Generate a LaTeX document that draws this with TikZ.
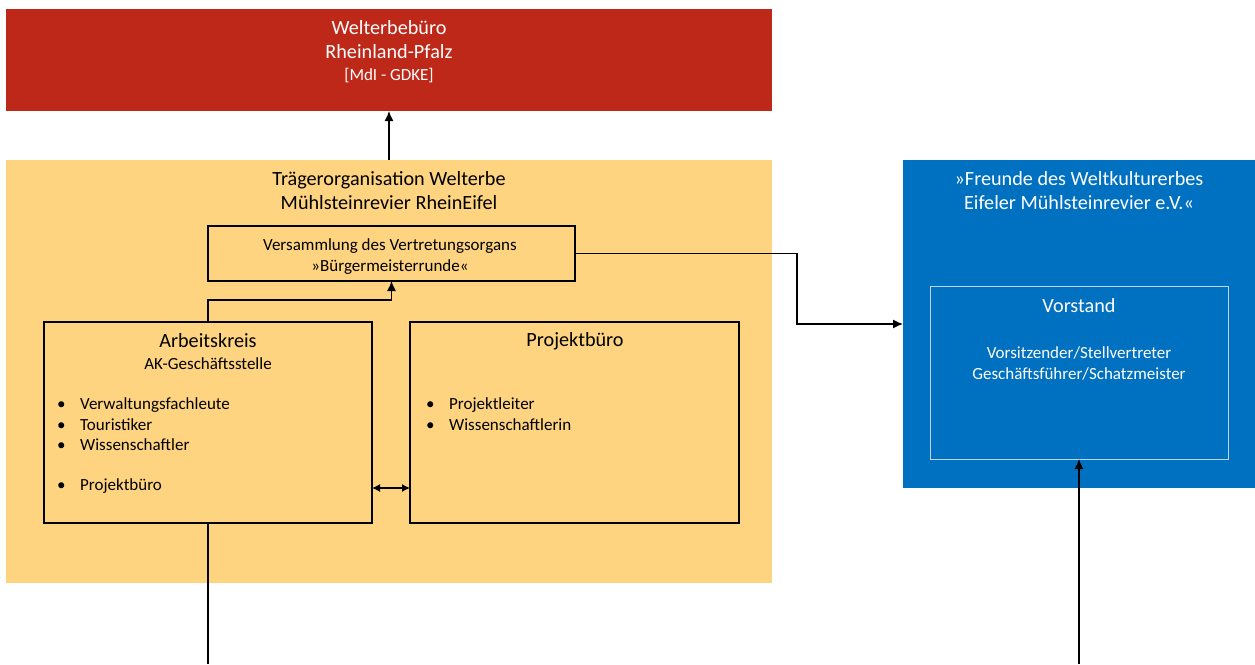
\documentclass[tikz,border=0pt]{standalone}
\usepackage{fontspec}
\setmainfont{Carlito}
\usetikzlibrary{arrows.meta}
\definecolor{wbred}{RGB}{190,40,25}
\definecolor{traegeryellow}{RGB}{254,212,128}
\definecolor{freundeblue}{RGB}{0,112,192}
\definecolor{vorstandline}{RGB}{190,215,240}
\tikzset{
  area/.style={inner sep=0pt, outer sep=0pt, anchor=north west},
  frame/.style={draw=black, line width=1.5pt, inner sep=0pt, outer sep=0pt, anchor=north west},
  bigtext/.style={inner sep=0pt, font=\fontsize{20.2}{24}\selectfont, align=center},
  smalltext/.style={inner sep=0pt, font=\fontsize{17}{21}\selectfont, align=center},
  item/.style={smalltext, anchor=west},
  conn/.style={line width=1.3pt, -{Latex[length=10pt,width=9pt]}},
}
\begin{document}
\begin{tikzpicture}[x=1pt,y=-1pt]
    \useasboundingbox (0,0) rectangle (1255,664);
    \node[area, fill=wbred, minimum width=766pt, minimum height=102pt] (wbuero) at (6,9) {};
    \node[area, fill=traegeryellow, minimum width=766pt, minimum height=423pt] (traeger) at (6,160) {};
    \node[area, fill=freundeblue, minimum width=352pt, minimum height=328pt] (freunde) at (903,160) {};
    \node[area, draw=vorstandline, line width=0.8pt, minimum width=298pt, minimum height=173pt] (vorstand) at (930,286) {};
    \node[frame, minimum width=367pt, minimum height=55pt] (vers) at (208,226) {};
    \node[frame, minimum width=328pt, minimum height=201pt] (ak) at (44,322) {};
    \node[frame, minimum width=329pt, minimum height=201pt] (pb) at (410,322) {};
    \coordinate (akend) at (208,664);
    \coordinate (vsend) at (1079,664);

    \node[bigtext, text=white] (wbtitle) at (389,40) {Welterbebüro\\Rheinland-Pfalz};
    \node[smalltext, text=white] (wbsub) at (389,76) {[MdI - GDKE]};
    \node[bigtext] (traegertitle) at (389,191) {Trägerorganisation Welterbe\\Mühlsteinrevier RheinEifel};
    \node[smalltext] (verstext) at (390,257) {Versammlung des Vertretungsorgans\\»Bürgermeisterrunde«};
    \node[bigtext, text=white] (freundetitle) at (1079,191) {»Freunde des Weltkulturerbes\\Eifeler Mühlsteinrevier e.V.«};
    \node[bigtext, text=white] (vstitle) at (1079,306) {Vorstand};
    \node[smalltext, text=white] (vsmembers) at (1079,363) {Vorsitzender/Stellvertreter\\Geschäftsführer/Schatzmeister};

    \node[bigtext] (aktitle) at (208,341) {Arbeitskreis};
    \node[smalltext] (aksub) at (208,364) {AK-Geschäftsstelle};
    \node[item] (ak1) at (57,405) {\makebox[23pt][l]{\textbullet}Verwaltungsfachleute};
    \node[item] (ak2) at (57,425) {\makebox[23pt][l]{\textbullet}Touristiker};
    \node[item] (ak3) at (57,445) {\makebox[23pt][l]{\textbullet}Wissenschaftler};
    \node[item] (ak4) at (57,486) {\makebox[23pt][l]{\textbullet}Projektbüro};

    \node[bigtext] (pbtitle) at (575,341) {Projektbüro};
    \node[item] (pb1) at (426,405) {\makebox[23pt][l]{\textbullet}Projektleiter};
    \node[item] (pb2) at (426,425) {\makebox[23pt][l]{\textbullet}Wissenschaftlerin};

    \draw[conn] (traeger.north) -- (wbuero.south);
    \draw[conn] (ak.north) -- ++(0,-22) -| (vers.south);
    \draw[conn] (vers.east) -- ++(222,0) |- (freunde.west);
    \draw[line width=1.3pt, {Latex[length=8pt,width=8pt]}-{Latex[length=8pt,width=8pt]}]
      ([yshift=-65.5pt]ak.east) -- ([yshift=-65.5pt]pb.west);
    \draw[line width=1.3pt] (ak.south) -- (akend);
    \draw[conn] (vsend) -- (vorstand.south);
\end{tikzpicture}
\end{document}
